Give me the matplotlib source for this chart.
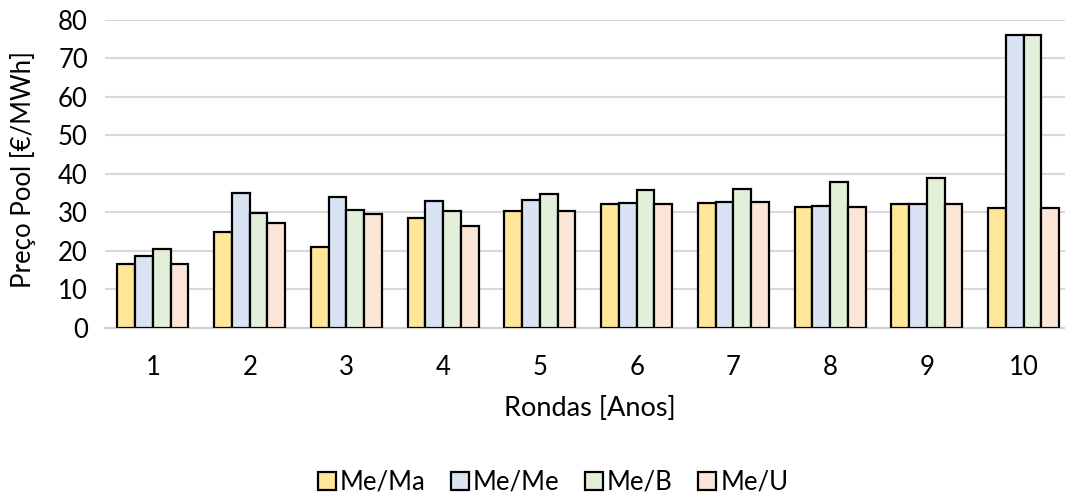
import matplotlib.pyplot as plt
import numpy as np

plt.rcParams['font.family'] = ['Lato', 'DejaVu Sans']

rondas = ['1', '2', '3', '4', '5', '6', '7', '8', '9', '10']
me_ma = [16.6, 25.0, 20.9, 28.4, 30.3, 32.2, 32.5, 31.5, 32.1, 31.0]
me_me = [18.6, 34.9, 34.1, 33.0, 33.3, 32.4, 32.7, 31.6, 32.2, 76.1]
me_b = [20.4, 29.8, 30.5, 30.4, 34.7, 35.8, 36.0, 37.8, 38.8, 76.1]
me_u = [16.6, 27.3, 29.6, 26.4, 30.3, 32.2, 32.6, 31.5, 32.1, 31.0]

series = [('Me/Ma', me_ma, '#FFE699'),
          ('Me/Me', me_me, '#DAE3F3'),
          ('Me/B', me_b, '#E2F0D9'),
          ('Me/U', me_u, '#FBE5D6')]

W, H = 1065, 501
fs = 18.5
fig = plt.figure(figsize=(W / 100, H / 100), dpi=100)
ax = fig.add_axes([104.6 / W, 173.3 / H, 967.4 / W, 307.7 / H])

x = np.arange(len(rondas))
bw = 0.734 / 4
for i, (name, vals, col) in enumerate(series):
    ax.bar(x + (i - 1.5) * bw, vals, bw, color=col, edgecolor='black',
           linewidth=1.6, label=name, zorder=3)

ax.set_xlim(-0.5, len(rondas) - 0.5)
ax.set_ylim(0, 80)
ax.set_yticks(np.arange(0, 81, 10))
ax.set_xticks(x)
ax.set_xticklabels(rondas)
ax.yaxis.grid(True, color='#D9D9D9', linewidth=1.5, zorder=0)
ax.set_axisbelow(True)
for s in ['top', 'right', 'left']:
    ax.spines[s].set_visible(False)
ax.spines['bottom'].set_color('#D0D0D0')
ax.spines['bottom'].set_linewidth(1.5)
ax.tick_params(axis='both', length=0, labelsize=fs, colors='black')
ax.tick_params(axis='x', pad=20)
ax.tick_params(axis='y', pad=12)

fig.text(23 / W, 1 - 170 / H, 'Preço Pool [€/MWh]', rotation=90,
         ha='center', va='center', fontsize=fs)
fig.text(590 / W, 1 - 409 / H, 'Rondas [Anos]', ha='center', va='center',
         fontsize=19.5)

fig.legend(loc='center', bbox_to_anchor=(553 / W, 1 - 482 / H), ncol=4,
           frameon=False, fontsize=fs, handlelength=0.7, handleheight=0.7,
           handletextpad=0.15, columnspacing=1.0)

fig.savefig('out.png', dpi=100)
